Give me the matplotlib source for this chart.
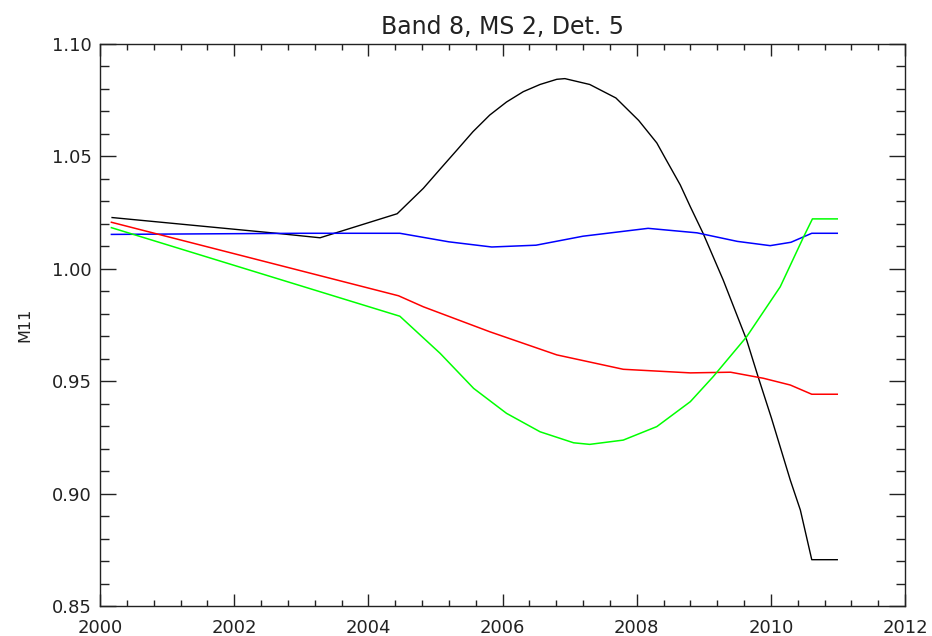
import matplotlib
matplotlib.use("Agg")
import matplotlib.pyplot as plt
from matplotlib.ticker import MultipleLocator

# Data
black_x = [2000.18, 2002.63, 2003.28, 2004.43, 2004.82, 2005.06, 2005.32, 2005.56, 2005.81, 2006.06,
           2006.31, 2006.56, 2006.81, 2006.93, 2007.30, 2007.69, 2008.03, 2008.30, 2008.43, 2008.65,
           2008.80, 2008.99, 2009.29, 2009.64, 2009.81, 2010.01, 2010.29, 2010.44, 2010.61, 2010.99]
black_y = [1.0228, 1.0158, 1.0138, 1.0245, 1.0358, 1.0440, 1.0528, 1.0610, 1.0684, 1.0742,
           1.0788, 1.0820, 1.0843, 1.0846, 1.0820, 1.0760, 1.0660, 1.0560, 1.0490, 1.0373,
           1.0276, 1.0158, 0.9950, 0.9683, 0.9520, 0.9335, 0.9060, 0.8927, 0.8706, 0.8706]

blue_x = [2000.17, 2003.00, 2004.47, 2005.20, 2005.84, 2006.50, 2007.20, 2008.17, 2008.90, 2009.50,
          2009.99, 2010.30, 2010.61, 2010.99]
blue_y = [1.0153, 1.0158, 1.0158, 1.0120, 1.0097, 1.0105, 1.0145, 1.0180, 1.0160, 1.0122,
          1.0103, 1.0118, 1.0158, 1.0158]

red_x = [2000.17, 2004.45, 2004.82, 2005.81, 2006.81, 2007.80, 2008.80, 2009.40, 2009.89, 2010.29,
         2010.61, 2010.99]
red_y = [1.0207, 0.9880, 0.9831, 0.9720, 0.9617, 0.9553, 0.9537, 0.9540, 0.9513, 0.9483,
         0.9442, 0.9442]

green_x = [2000.17, 2004.47, 2005.07, 2005.57, 2006.06, 2006.56, 2007.06, 2007.30, 2007.80, 2008.30,
           2008.80, 2009.14, 2009.64, 2010.14, 2010.49, 2010.62, 2010.99]
green_y = [1.0183, 0.9789, 0.9624, 0.9468, 0.9357, 0.9275, 0.9226, 0.9219, 0.9238, 0.9298,
           0.9409, 0.9520, 0.9698, 0.9920, 1.0143, 1.0222, 1.0222]

x_ticks = [2000, 2002, 2004, 2006, 2008, 2010, 2012]
y_ticks = [0.85, 0.90, 0.95, 1.00, 1.05, 1.10]

fig = plt.figure(figsize=(9.32, 6.36), dpi=100)
ax = fig.add_axes([100/932, 1 - 606/636, 805/932, 562/636])

ax.plot(black_x, black_y, color="black", lw=1.0)
ax.plot(blue_x, blue_y, color="#0000ff", lw=1.1)
ax.plot(red_x, red_y, color="#ff0000", lw=1.1)
ax.plot(green_x, green_y, color="#00ff00", lw=1.1)

ax.set_xlim(2000, 2012)
ax.set_ylim(0.85, 1.10)
ax.set_xticks(x_ticks)
ax.set_xticklabels([str(t) for t in x_ticks])
ax.set_yticks(y_ticks)
ax.set_yticklabels([f"{t:.2f}" for t in y_ticks])
ax.xaxis.set_minor_locator(MultipleLocator(0.4))
ax.yaxis.set_minor_locator(MultipleLocator(0.01))

for s in ax.spines.values():
    s.set_linewidth(1.0)
    s.set_color("#222222")

ax.tick_params(axis="x", which="major", direction="in", length=8.4, width=1.0, top=True,
               bottom=True, labelsize=13, pad=9.5, colors="#222222")
ax.tick_params(axis="x", which="minor", direction="in", length=4.1, width=1.0, top=True, bottom=True,
               colors="#222222")
ax.tick_params(axis="y", which="major", direction="in", length=11.3, width=1.0, left=True,
               right=True, labelsize=13, pad=6, colors="#222222")
ax.tick_params(axis="y", which="minor", direction="in", length=6.5, width=1.0, left=True, right=True,
               colors="#222222")

ax.set_title("Band 8, MS 2, Det. 5", fontsize=17, pad=7, color="#222222")
ax.set_ylabel("M11", fontsize=11.5, color="#222222")
ax.yaxis.set_label_coords((32 - 100) / 805, 0.5)

fig.savefig("out.png", dpi=100)
